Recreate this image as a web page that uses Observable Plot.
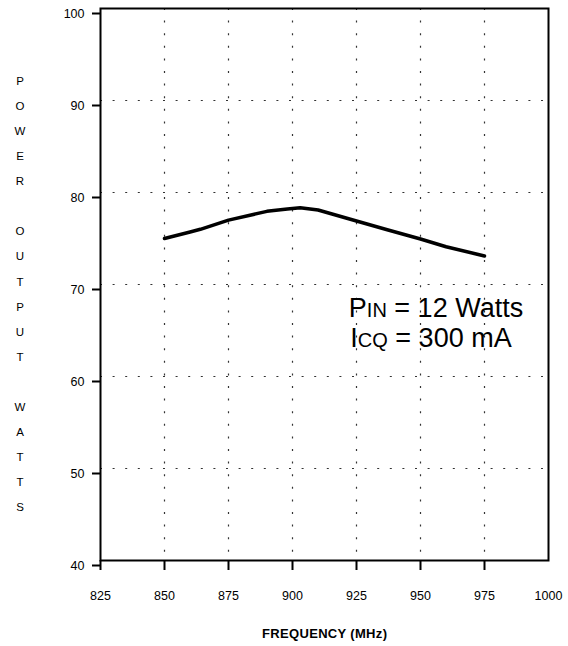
<!DOCTYPE html>
<html>
<head>
<meta charset="utf-8">
<script src="https://cdn.jsdelivr.net/npm/d3@7"></script>
<script src="https://cdn.jsdelivr.net/npm/@observablehq/plot@0.6"></script>
<style>
  html, body { margin: 0; padding: 0; background: #fff; }
  svg { display: block; }
</style>
</head>
<body>
<div id="chart"></div>
<script>
// Data
const freq = [850, 860, 864, 875, 890, 898, 903, 910, 925, 937, 950, 960, 975];
const power = [75.0, 75.7, 76.0, 77.0, 77.95, 78.2, 78.35, 78.1, 76.9, 75.95, 74.95, 74.1, 73.1];
const xTicks = [825, 850, 875, 900, 925, 950, 975, 1000];
const yTicks = [40, 50, 60, 70, 80, 90, 100];
const yLabelLetters = ["P","O","W","E","R","","O","U","T","P","U","T","","W","A","T","T","S"];
const xLabel = "FREQUENCY (MHz)";

const data = freq.map((f, i) => ({ f, p: power[i] }));

const chart = Plot.plot({
  width: 568,
  height: 646,
  marginLeft: 100,
  marginRight: 20,
  marginTop: 8,
  marginBottom: 86,
  style: { fontFamily: "'Liberation Sans', Arial, sans-serif", fontSize: "12px", background: "#fff", color: "#000" },
  x: { domain: [825, 1000] },
  y: { domain: [40, 100] },
  marks: [
    Plot.gridX(xTicks.slice(1, -1), { stroke: "#333", strokeOpacity: 1, strokeWidth: 1.2, strokeDasharray: "2,10.6" }),
    Plot.gridY(yTicks.slice(1, -1), { stroke: "#333", strokeOpacity: 1, strokeWidth: 1.2, strokeDasharray: "2,10.6" }),
    Plot.line(data, { x: "f", y: "p", stroke: "#000", strokeWidth: 3.5, strokeLinejoin: "round" }),
    Plot.frame({ stroke: "#000", strokeWidth: 2 }),
    Plot.axisX(xTicks.slice(0, -1), { tickSize: 10, strokeWidth: 2, tickFormat: () => "", label: null }),
    Plot.axisX(xTicks, { tickSize: 0, tickPadding: 31, fontSize: 12.5, label: null, tickFormat: d => String(d) }),
    Plot.axisY(yTicks, { tickSize: 8, tickPadding: 8, strokeWidth: 2, fontSize: 12.5, dy: 5, label: null, tickFormat: d => String(d) })
  ]
});

document.getElementById("chart").appendChild(chart);

const svg = d3.select(chart);
const xs = chart.scale("x");
const ys = chart.scale("y");

// Vertical stacked y-axis label
const ylab = svg.append("g")
  .attr("font-family", "'Liberation Sans', Arial, sans-serif")
  .attr("font-size", 11.5)
  .attr("text-anchor", "middle")
  .attr("fill", "#000");
yLabelLetters.forEach((ch, i) => {
  if (!ch) return;
  ylab.append("text").attr("x", 20).attr("y", 81 + i * 25.06).attr("dy", "0.35em").text(ch);
});

// X-axis label
svg.append("text")
  .attr("x", 324.5).attr("y", 633)
  .attr("dy", "0.35em")
  .attr("text-anchor", "middle")
  .attr("font-family", "'Liberation Sans', Arial, sans-serif")
  .attr("font-weight", "bold")
  .attr("font-size", 13)
  .attr("textLength", 125)
  .attr("lengthAdjust", "spacing")
  .text(xLabel);

// Annotation
const ann = svg.append("g")
  .attr("font-family", "'Liberation Sans', Arial, sans-serif")
  .attr("text-anchor", "start")
  .attr("fill", "#000");
const ax = xs.apply(922.2);
const t1 = ann.append("text").attr("x", ax).attr("y", ys.apply(66.45)).attr("font-size", 27);
t1.append("tspan").text("P");
t1.append("tspan").attr("font-size", 20).text("IN");
t1.append("tspan").text(" = 12 Watts");
const t2 = ann.append("text").attr("x", ax + 1.5).attr("y", ys.apply(63.1)).attr("font-size", 27);
t2.append("tspan").text("I");
t2.append("tspan").attr("font-size", 20).text("CQ");
t2.append("tspan").text(" = 300 mA");
</script>
</body>
</html>
